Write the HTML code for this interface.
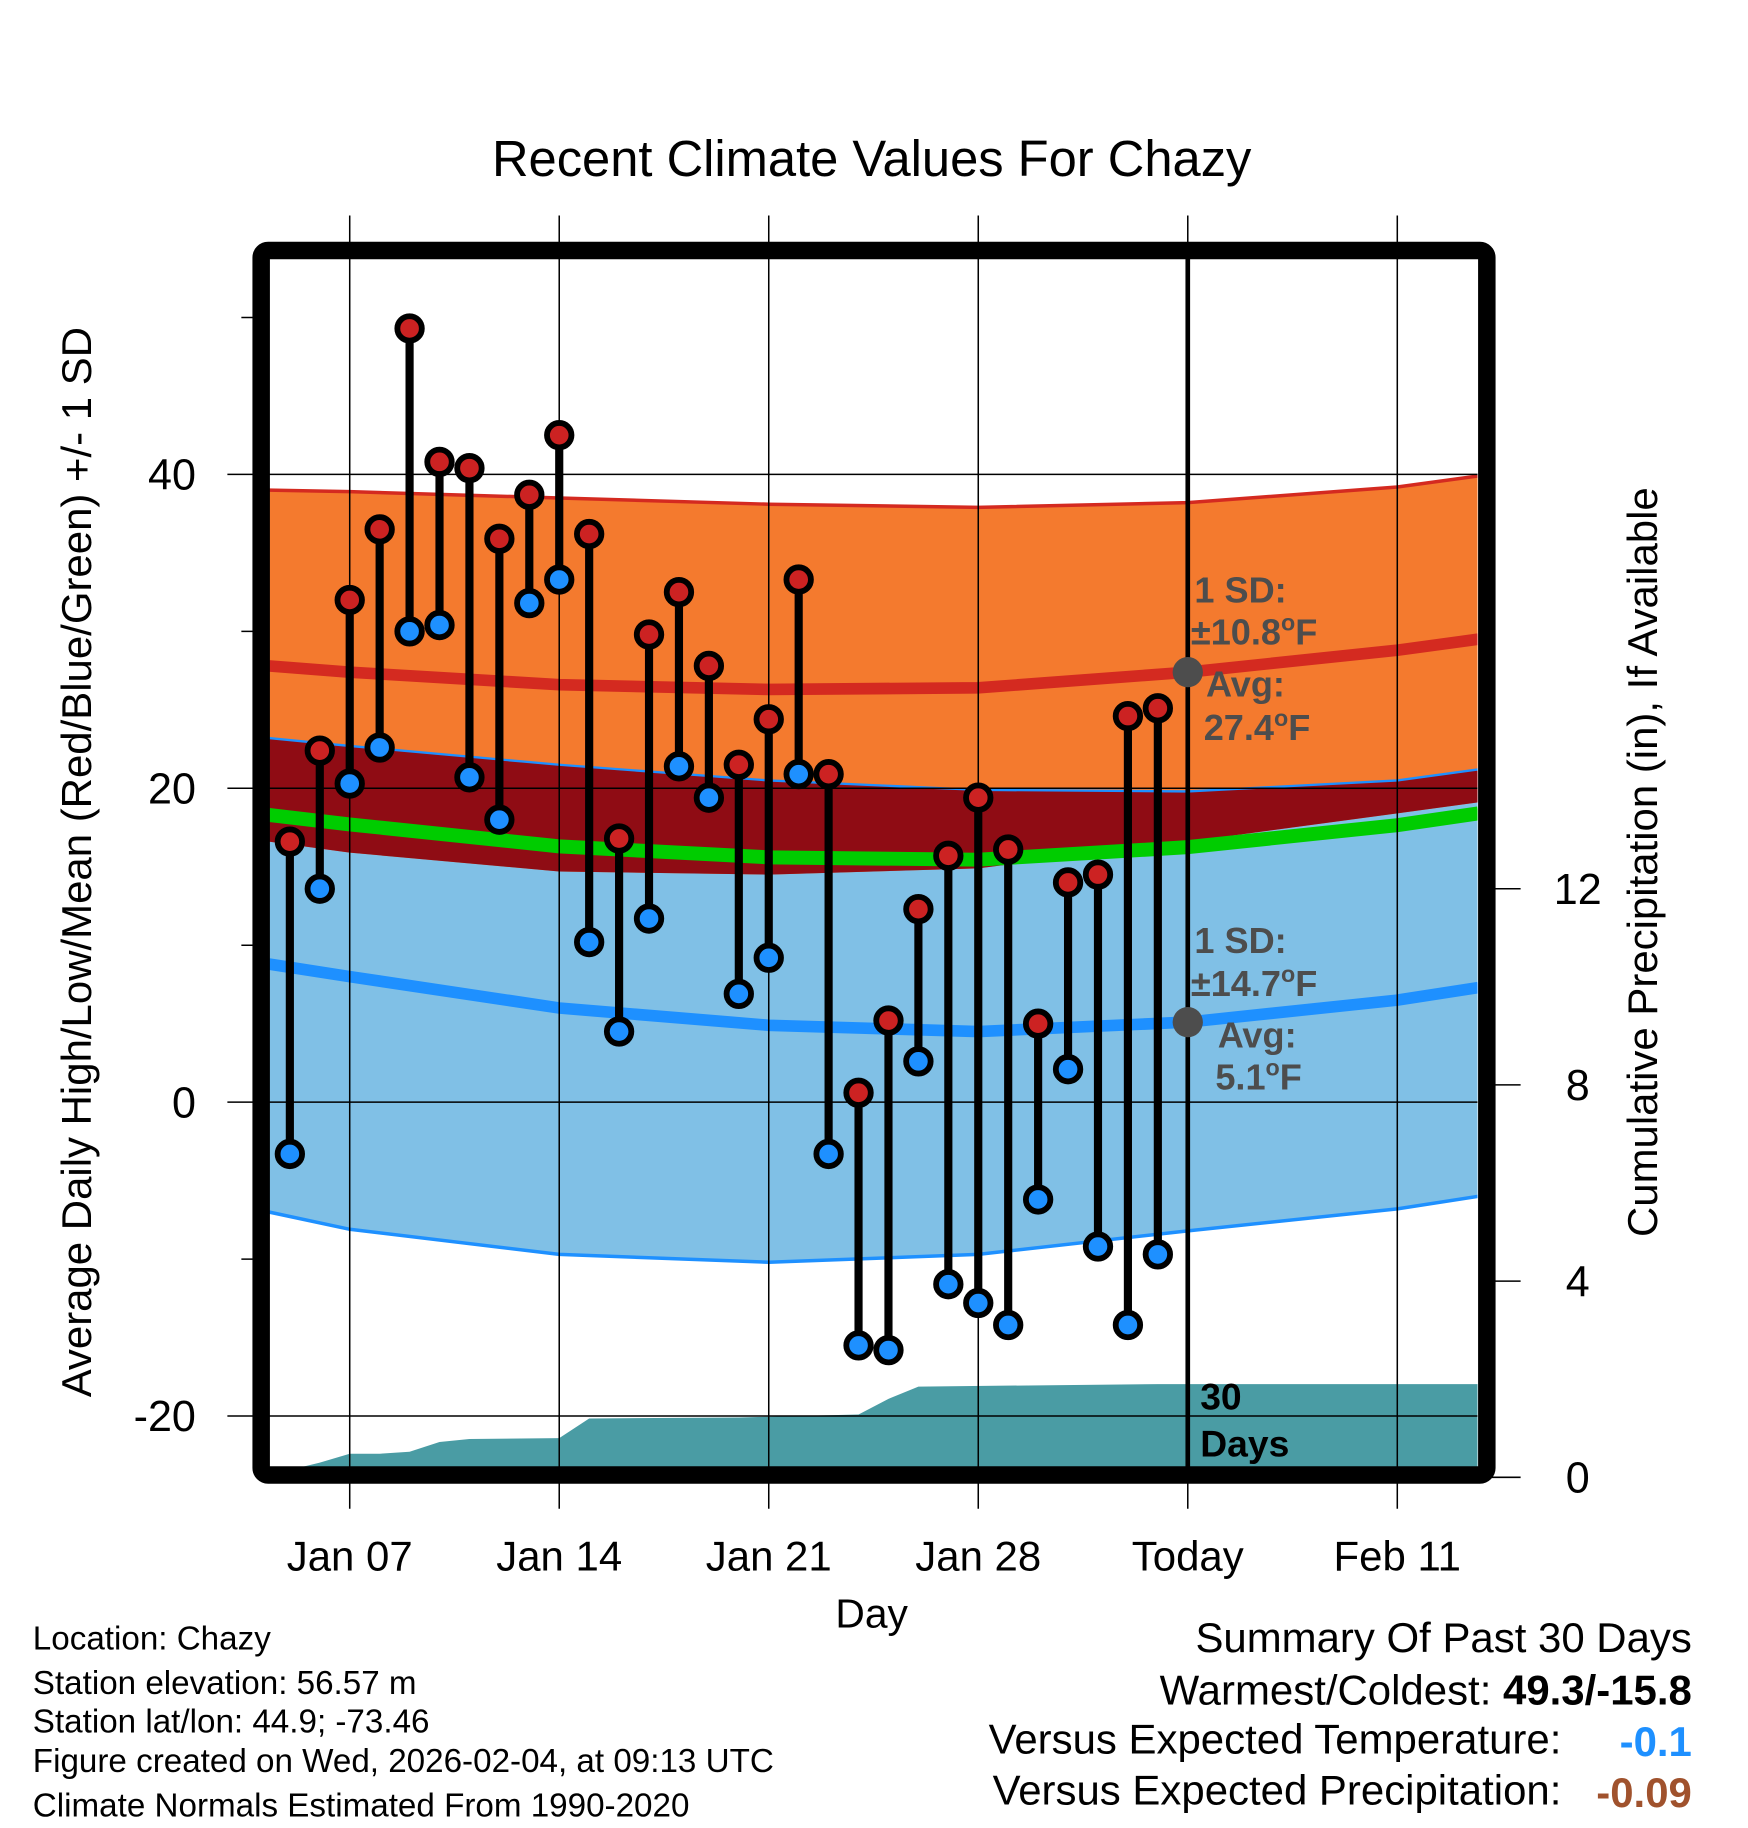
<!DOCTYPE html>
<html><head><meta charset="utf-8"><style>
html,body{margin:0;padding:0;background:#fff}
svg{display:block}
text{font-family:"Liberation Sans",sans-serif}
</style></head><body>
<svg id="chart" width="1748" height="1828" viewBox="0 0 1500 1569" xmlns="http://www.w3.org/2000/svg">
<text x="748" y="151" font-size="43.5" text-anchor="middle">Recent Climate Values For Chazy</text>
<defs><clipPath id="pc"><rect x="231" y="222" width="1037" height="1037"/></clipPath></defs>
<g id="bands" clip-path="url(#pc)"></g>
<g id="grid"></g>
<g id="marks"></g>
<rect x="224" y="215" width="1052" height="1051" rx="6" fill="none" stroke="#000" stroke-width="15"/>
<g id="axes"></g>
<g id="notes" font-weight="bold" fill="#4d4d4d" font-size="31">
<text x="1025" y="517">1 SD:</text>
<text x="1022" y="553">±10.8<tspan dy="-12" font-size="20">o</tspan><tspan dy="12">F</tspan></text>
<text x="1035" y="598">Avg:</text>
<text x="1033" y="635">27.4<tspan dy="-12" font-size="20">o</tspan><tspan dy="12">F</tspan></text>
<text x="1025" y="818">1 SD:</text>
<text x="1022" y="855">±14.7<tspan dy="-12" font-size="20">o</tspan><tspan dy="12">F</tspan></text>
<text x="1045" y="899">Avg:</text>
<text x="1043" y="935">5.1<tspan dy="-12" font-size="20">o</tspan><tspan dy="12">F</tspan></text>
</g>
<text x="1030" y="1210" font-size="32" font-weight="bold">30</text>
<text x="1030" y="1250" font-size="32" font-weight="bold">Days</text>
<text transform="translate(78,740) rotate(-90)" font-size="36" text-anchor="middle">Average Daily High/Low/Mean (Red/Blue/Green) +/- 1 SD</text>
<text transform="translate(1422,740) rotate(-90)" font-size="36" text-anchor="middle">Cumulative Precipitation (in), If Available</text>
<text x="748" y="1397" font-size="35" text-anchor="middle">Day</text>
<g font-size="28.5">
<text x="28" y="1416">Location: Chazy</text>
<text x="28" y="1454">Station elevation: 56.57 m</text>
<text x="28" y="1487">Station lat/lon: 44.9; -73.46</text>
<text x="28" y="1521">Figure created on Wed, 2026-02-04, at 09:13 UTC</text>
<text x="28" y="1559">Climate Normals Estimated From 1990-2020</text>
</g>
<g font-size="36">
<text x="1452" y="1418" text-anchor="end">Summary Of Past 30 Days</text>
<text x="1452" y="1463" text-anchor="end">Warmest/Coldest: <tspan font-weight="bold">49.3/-15.8</tspan></text>
<text x="1340" y="1505" text-anchor="end">Versus Expected Temperature:</text>
<text x="1452" y="1507" text-anchor="end" font-weight="bold" fill="#1e90ff">-0.1</text>
<text x="1340" y="1549" text-anchor="end">Versus Expected Precipitation:</text>
<text x="1452" y="1551" text-anchor="end" font-weight="bold" fill="#a0522d">-0.09</text>
</g>
</svg>
<script>
const days=[5,6,7,8,9,10,11,12,13,14,15,16,17,18,19,20,21,22,23,24,25,26,27,28,29,30,31,32,33,34];
const highs=[16.6,22.4,32.0,36.5,49.3,40.8,40.4,35.9,38.7,42.5,36.2,16.8,29.8,32.5,27.8,21.5,24.4,33.3,20.9,0.6,5.2,12.3,15.7,19.4,16.1,5.0,14.0,14.5,24.6,25.1];
const lows=[-3.3,13.6,20.3,22.6,30.0,30.4,20.7,18.0,31.8,33.3,10.2,4.5,11.7,21.4,19.4,6.9,9.2,20.9,-3.3,-15.5,-15.8,2.6,-11.6,-12.8,-14.2,-6.2,2.1,-9.2,-14.2,-9.7];
const normDays=[4.3,7,14,21,28,35,42,44.7];
const hiMean=[27.8,27.4,26.6,26.3,26.4,27.4,28.8,29.5];
const hiUpper=[39.0,38.9,38.5,38.1,37.9,38.2,39.2,39.9];
const hiLower=[16.6,15.9,14.7,14.5,14.9,16.6,18.4,19.1];
const loMean=[8.8,8.0,6.0,4.9,4.5,5.1,6.5,7.3];
const loUpper=[23.2,22.7,21.5,20.5,19.9,19.8,20.5,21.2];
const loLower=[-7.0,-8.1,-9.7,-10.2,-9.7,-8.2,-6.8,-6.0];
const precDays=[4.3,5,6,7,8,9,10,11,14,15,20,24,25,26,34,44.7];
const precip=[0.1,0.15,0.3,0.48,0.48,0.52,0.72,0.78,0.8,1.2,1.22,1.28,1.6,1.85,1.9,1.9];
const yTicks=[-20,0,20,40];
const yMinor=[-10,10,30,50];
const pTicks=[0,4,8,12];
const xTickDays=[7,14,21,28,35,42];
const xTickLabels=["Jan 07","Jan 14","Jan 21","Jan 28","Today","Feb 11"];
const todayDay=35, todayHi=27.4, todayLo=5.1;

const NS="http://www.w3.org/2000/svg";
const X=d=>300+(d-7)*25.69;
const Y=v=>946-13.47*v;
const P=p=>1268-42.1*p;
function mk(tag,attrs,parent){const e=document.createElementNS(NS,tag);for(const k in attrs)e.setAttribute(k,attrs[k]);parent.appendChild(e);return e;}
const bands=document.getElementById('bands'),grid=document.getElementById('grid'),marks=document.getElementById('marks'),axes=document.getElementById('axes');
function line(arr){return normDays.map((d,i)=>X(d)+','+Y(arr[i])).join(' ');}
function band(up,lo){return normDays.map((d,i)=>X(d)+','+Y(up[i])).concat(normDays.slice().reverse().map((d,j)=>{const i=normDays.length-1-j;return X(d)+','+Y(lo[i]);})).join(' ');}
let e;
e=mk('polygon',{points:band(loUpper,loLower),fill:'#80c0e6'},bands);


e=mk('polygon',{points:band(hiUpper,hiLower),fill:'#f47a2e'},bands);


const ovLo=hiLower.map((v,i)=>Math.min(v,loUpper[i]));
e=mk('polygon',{points:band(loUpper,ovLo),fill:'#8f0c14'},bands);


e=mk('polyline',{points:line(hiUpper),fill:'none',stroke:'#d42a20',"stroke-width":3},bands);


e=mk('polyline',{points:line(loLower),fill:'none',stroke:'#1e90ff',"stroke-width":3},bands);


e=mk('polyline',{points:line(loUpper),fill:'none',stroke:'#1e90ff',"stroke-width":2},bands);


e=mk('polyline',{points:line(hiMean),fill:'none',stroke:'#d42a20',"stroke-width":10},bands);


e=mk('polyline',{points:line(loMean),fill:'none',stroke:'#1e90ff',"stroke-width":10},bands);


const avgMean=hiMean.map((v,i)=>(v+loMean[i])/2);
e=mk('polyline',{points:line(avgMean),fill:'none',stroke:'#00cc00',"stroke-width":12},bands);


let pp=precDays.map((d,i)=>X(d)+','+P(precip[i]));
pp.push(X(precDays[precDays.length-1])+',1262');pp.push(X(precDays[0])+',1262');
e=mk('polygon',{points:pp.join(' '),fill:'#4a9ca4'},bands);



yTicks.forEach(v=>{
 e=mk('line',{x1:195,x2:1268,y1:Y(v),y2:Y(v),stroke:'#000',"stroke-width":1.3},grid);
 
 
 e=mk('text',{x:168,y:Y(v)+13,"font-size":37,"text-anchor":"end"},axes);e.textContent=v;
 
 
});
yMinor.forEach(v=>{
 e=mk('line',{x1:207,x2:222,y1:Y(v),y2:Y(v),stroke:'#000',"stroke-width":1.3},axes);
 
 
});
xTickDays.forEach((d,i)=>{
 e=mk('line',{x1:X(d),x2:X(d),y1:185,y2:1295,stroke:'#000',"stroke-width":1.3},grid);
 
 
 if(d===todayDay){
  e=mk('line',{x1:X(d),x2:X(d),y1:222,y2:1259,stroke:'#000',"stroke-width":4},grid);
  
  
 }
 e=mk('text',{x:X(d),y:1348,"font-size":36,"text-anchor":"middle"},axes);e.textContent=xTickLabels[i];
 
 
});
pTicks.forEach(p=>{
 e=mk('line',{x1:1276,x2:1305,y1:P(p),y2:P(p),stroke:'#000',"stroke-width":1.3},axes);
 
 
 e=mk('text',{x:1354,y:P(p)+13,"font-size":37,"text-anchor":"middle"},axes);e.textContent=p;
 
 
});
days.forEach((d,i)=>{
 e=mk('line',{x1:X(d),x2:X(d),y1:Y(highs[i]),y2:Y(lows[i]),stroke:'#000',"stroke-width":7},marks);
 
 
});
days.forEach((d,i)=>{
 e=mk('circle',{cx:X(d),cy:Y(highs[i]),r:10.5,fill:'#cc2222',stroke:'#000',"stroke-width":5},marks);
 
 
 e=mk('circle',{cx:X(d),cy:Y(lows[i]),r:10.5,fill:'#1e90ff',stroke:'#000',"stroke-width":5},marks);
 
 
});
e=mk('circle',{cx:X(todayDay),cy:Y(todayHi),r:13,fill:'#4d4d4d'},marks);


e=mk('circle',{cx:X(todayDay),cy:Y(todayLo),r:13,fill:'#4d4d4d'},marks);


</script>
</body></html>
